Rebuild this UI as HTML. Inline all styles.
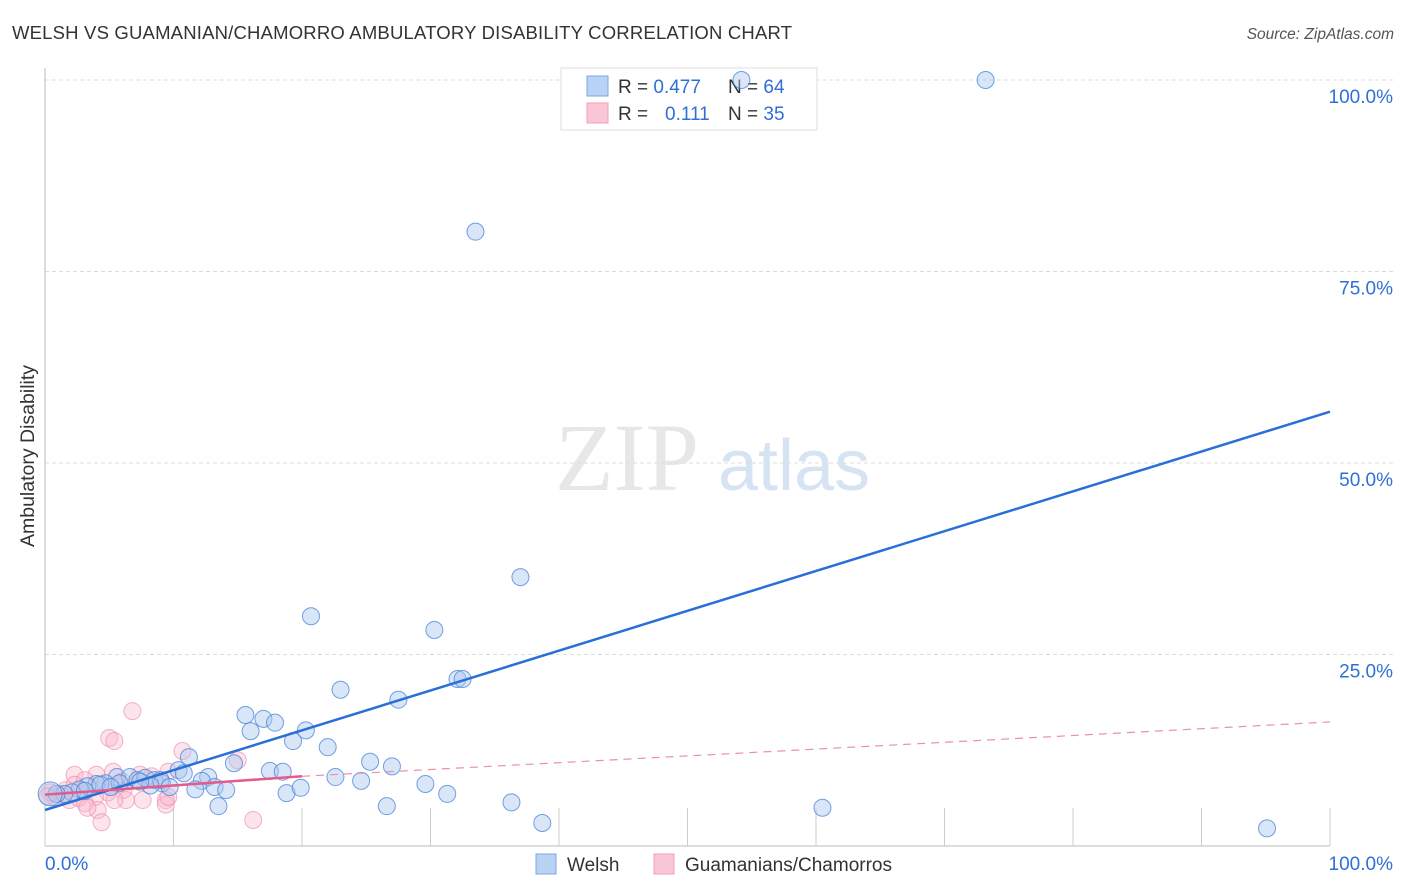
<!DOCTYPE html>
<html><head><meta charset="utf-8"><style>
body{margin:0;background:#fff;font-family:"Liberation Sans",sans-serif}
svg{display:block}
</style></head><body>
<svg id="chart" width="1406" height="892">
<text x="12" y="39" font-size="18.5" fill="#333" textLength="780">WELSH VS GUAMANIAN/CHAMORRO AMBULATORY DISABILITY CORRELATION CHART</text>
<text x="1394" y="39" font-size="15.5" fill="#555" font-style="italic" text-anchor="end">Source: ZipAtlas.com</text>
<text transform="translate(34,456) rotate(-90)" font-size="19.5" fill="#333" text-anchor="middle">Ambulatory Disability</text>
<g><text x="555" y="490" font-size="96" fill="#ddd" font-family="Liberation Serif,serif" opacity="0.7">ZIP</text><text x="718" y="490" font-size="72" fill="#c5d8ef" opacity="0.7">atlas</text></g>
<g id="grid"></g><g id="axes"></g>
<g>
<rect x="561" y="68" width="256" height="62" fill="#fff" stroke="#ddd"/>
<rect x="587" y="76" width="21" height="20" fill="#b9d3f5" stroke="#7aa7e3"/>
<rect x="587" y="103" width="21" height="20" fill="#f9c6d5" stroke="#eea0b8"/>
<text x="618" y="93" font-size="19" fill="#333">R = <tspan fill="#2f6fd6">0.477</tspan><tspan x="728">N = </tspan><tspan fill="#2f6fd6">64</tspan></text>
<text x="618" y="120" font-size="19" fill="#333">R = <tspan x="665" fill="#2f6fd6">0.111</tspan><tspan x="728">N = </tspan><tspan fill="#2f6fd6">35</tspan></text>
</g>
<g id="pts"></g><g id="lines"></g>
<g>
<rect x="536" y="854" width="20" height="20" fill="#b9d3f5" stroke="#7aa7e3"/>
<text x="567" y="871" font-size="19" fill="#333">Welsh</text>
<rect x="654" y="854" width="20" height="20" fill="#f9c6d5" stroke="#eea0b8"/>
<text x="685" y="871" font-size="19" fill="#333">Guamanians/Chamorros</text>
</g>
</svg>
<script>
const blueX=[54.2,73.2,33.5,37.0,20.7,30.3,23.0,32.1,32.5,27.5,15.6,17.0,17.9,16.0,20.3,19.3,22.0,11.2,25.3,27.0,17.5,18.5,14.7,10.4,10.8,12.7,22.6,24.6,29.6,12.2,13.2,11.7,14.1,18.8,19.9,31.3,26.6,13.5,36.3,38.7,60.5,95.1,5.6,6.6,7.2,7.8,8.5,9.1,4.7,4.0,3.3,2.7,2.1,1.5,0.9,0.4,9.0,5.8,4.3,8.2,3.1,7.4,5.1,9.7];
const blueY=[100,100,80.2,35.1,30.0,28.2,20.4,21.8,21.8,19.1,17.1,16.6,16.1,15.0,15.1,13.7,12.9,11.6,11.0,10.4,9.8,9.7,10.8,9.9,9.5,9.0,9.0,8.5,8.1,8.5,7.7,7.4,7.3,6.9,7.6,6.8,5.2,5.2,5.7,3.0,5.0,2.3,9.0,9.0,8.6,8.9,8.6,8.2,8.2,8.1,7.8,7.4,7.0,6.8,6.8,6.8,8.6,8.2,8.0,7.9,7.2,8.4,7.7,7.7];
const pinkX=[6.8,5.0,5.4,10.7,15.0,4.0,2.3,5.3,8.3,9.6,7.4,6.0,3.1,6.1,4.9,3.9,3.1,4.1,4.4,9.4,9.4,7.6,6.3,16.2,9.6,1.2,0.8,1.6,1.9,0.4,2.6,3.3,5.4,2.3,0.2];
const pinkY=[17.6,14.1,13.7,12.4,11.2,9.3,9.3,9.7,9.1,9.7,9.3,8.4,8.6,7.3,7.0,6.4,5.6,4.7,3.1,6.0,5.4,6.0,6.0,3.4,6.4,6.7,6.3,7.3,6.0,7.0,6.3,5.0,6.0,8.0,6.5];
const blueTrend=[4.7,56.7];
const pinkTrend=[6.7,9.1,16.2];
const yTicks=[25,50,75,100];
const xTicks=[0,10,20,30,40,50,60,70,80,90,100];
const sx=v=>45+v*12.85, sy=v=>846-v*7.66;
const NS="http://www.w3.org/2000/svg";
function mk(t,a,p){const e=document.createElementNS(NS,t);for(const k in a)e.setAttribute(k,a[k]);document.getElementById(p).appendChild(e);return e;}
yTicks.forEach(v=>{
 const l=mk('line',{x1:45,x2:1393,y1:sy(v),y2:sy(v),stroke:'#ddd','stroke-dasharray':'4,3'},'grid');
 
 
 const t=mk('text',{x:1393,y:sy(v)+23,'font-size':19,fill:'#2f6fd6','text-anchor':'end'},'grid');
 t.textContent=v.toFixed(1)+'%';
 
 
});
let a=mk('line',{x1:45,x2:45,y1:68,y2:846,stroke:'#bbb'},'axes');


a=mk('line',{x1:45,x2:1330,y1:846,y2:846,stroke:'#bbb'},'axes');


xTicks.forEach(v=>{
 const l=mk('line',{x1:sx(v),x2:sx(v),y1:808,y2:846,stroke:'#ccc'},'axes');
 
 
});
[[0,'start',45],[100,'end',1393]].forEach(([v,an,x])=>{
 const t=mk('text',{x:x,y:870,'font-size':19,fill:'#2f6fd6','text-anchor':an},'axes');
 t.textContent=v.toFixed(1)+'%';
 
 
});
pinkX.forEach((x,i)=>{
 const c=mk('circle',{cx:sx(x),cy:sy(pinkY[i]),r:8.5,fill:'rgba(249,185,205,0.4)',stroke:'rgba(235,140,170,0.65)'},'pts');
 
 
});
blueX.forEach((x,i)=>{
 const c=mk('circle',{cx:sx(x),cy:sy(blueY[i]),r:(i==55?12:8.5),fill:'rgba(170,200,240,0.45)',stroke:'rgba(70,130,215,0.75)'},'pts');
 
 
});
let l=mk('line',{x1:sx(0),y1:sy(blueTrend[0]),x2:sx(100),y2:sy(blueTrend[1]),stroke:'#2a6fd8','stroke-width':2.5},'lines');


l=mk('line',{x1:sx(0),y1:sy(pinkTrend[0]),x2:sx(20),y2:sy(pinkTrend[1]),stroke:'#e45a8a','stroke-width':2.5},'lines');


l=mk('line',{x1:sx(20),y1:sy(pinkTrend[1]),x2:sx(100),y2:sy(pinkTrend[2]),stroke:'#eb8fae','stroke-width':1.2,'stroke-dasharray':'8,6'},'lines');


</script>
</body></html>
